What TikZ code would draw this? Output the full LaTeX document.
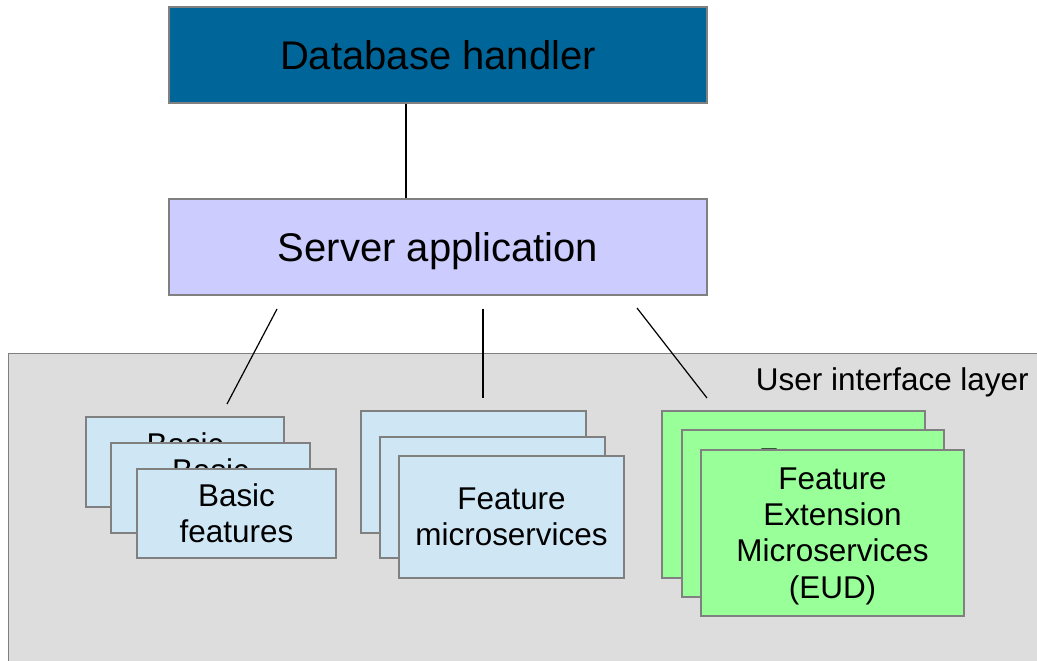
\documentclass[tikz,border=0pt]{standalone}
\usepackage{fontspec}
\setmainfont{Liberation Sans}
\definecolor{dbblue}{HTML}{006699}
\definecolor{srvlilac}{HTML}{CCCCFF}
\definecolor{layergray}{HTML}{DDDDDD}
\definecolor{featblue}{HTML}{CFE7F5}
\definecolor{extgreen}{HTML}{99FF99}
\definecolor{edgegray}{HTML}{808080}
\tikzset{
  pxsize/.style 2 args={minimum width=#1*0.75pt, minimum height=#2*0.75pt},
  bigbox/.style={draw=edgegray, line width=1.1pt, inner sep=0pt, align=center,
    text depth=0pt, font=\fontsize{30}{34.5}\selectfont},
  smallbox/.style={draw=edgegray, line width=1.1pt, inner sep=0pt, align=center,
    text depth=0pt, font=\fontsize{23.6}{27.1}\selectfont},
  basicbox/.style={smallbox, fill=featblue},
  extbox/.style={smallbox, fill=extgreen},
  link/.style={draw=black, line width=0.9pt}
}
\begin{document}
\begin{tikzpicture}[x=0.75pt, y=-0.75pt]
\useasboundingbox (0,0) rectangle (1037,660);

% top tier
\node[bigbox, fill=dbblue, pxsize={538}{96}] (db) at (438,55) {Database handler};
\node[bigbox, fill=srvlilac, pxsize={538}{96}] (srv) at (438,247) {Server application};

\coordinate (dbx) at (406,0);
\draw[link] (db.south -| dbx) -- (srv.north -| dbx);

% user interface layer
\node[draw=edgegray, line width=1.1pt, fill=layergray, inner sep=0pt,
      pxsize={1040}{320}, anchor=north west] (layer) at (8,353) {};
\node[anchor=base east, inner sep=0pt, font=\fontsize{23.6}{27.1}\selectfont]
  (layerlabel) at (1029,390) {User interface layer};

% basic features stack
\node[basicbox, pxsize={198}{90}] (b1) at (185,462) {Basic\\features};
\node[basicbox, pxsize={199}{90}] (b2) at (210.5,488) {Basic\\features};
\node[basicbox, pxsize={199}{89}] (b3) at (236.5,513.5) {Basic\\features};

% feature microservices stack
\node[basicbox, pxsize={225}{122}] (f1) at (473.5,472) {Feature\\microservices};
\node[basicbox, pxsize={225}{121}] (f2) at (492.5,497.5) {Feature\\microservices};
\node[basicbox, pxsize={225}{122}] (f3) at (511.5,517) {Feature\\microservices};

% extension microservices stack
\node[extbox, pxsize={263}{167}] (e1) at (793.5,494.5) {Feature\\Extension\\Microservices\\(EUD)};
\node[extbox, pxsize={262}{167}] (e2) at (813,513.5) {Feature\\Extension\\Microservices\\(EUD)};
\node[extbox, pxsize={263}{166}] (e3) at (832.5,533) {Feature\\Extension\\Microservices\\(EUD)};

% links from the server down into the layer
\coordinate (s1) at (277,309);
\coordinate (t1) at (227,404);
\coordinate (s2) at (483,309);
\coordinate (t2) at (483,398);
\coordinate (s3) at (637,308);
\coordinate (t3) at (707,398);
\draw[link] (s1) -- (t1);
\draw[link] (s2) -- (t2);
\draw[link] (s3) -- (t3);
\end{tikzpicture}
\end{document}
